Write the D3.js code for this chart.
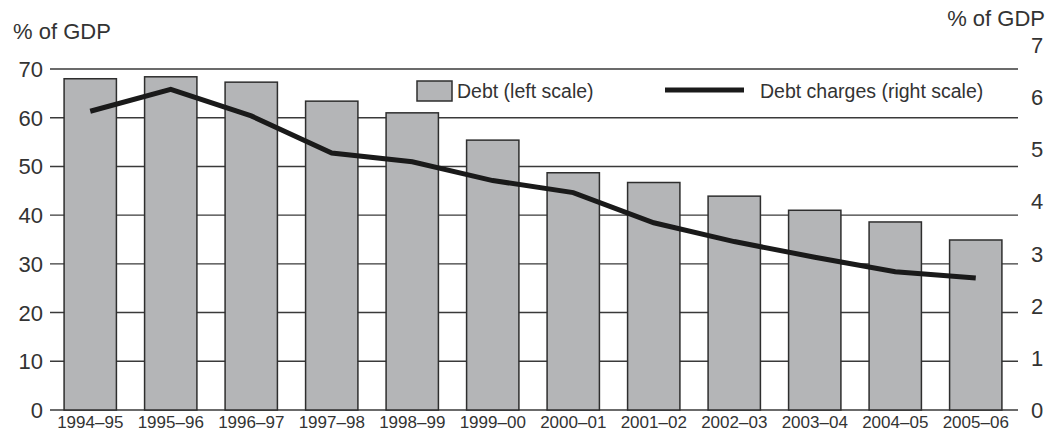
<!DOCTYPE html>
<html>
<head>
<meta charset="utf-8">
<script src="https://cdn.jsdelivr.net/npm/d3@7"></script>
<style>
  body { margin: 0; background: #fff; }
  text { font-family: "Liberation Sans", Arial, sans-serif; fill: #333; }
</style>
</head>
<body>
<div id="vis"></div>
<script>
// data
var years   = ["1994–95", "1995–96", "1996–97", "1997–98", "1998–99", "1999–00",
               "2000–01", "2001–02", "2002–03", "2003–04", "2004–05", "2005–06"];
var debt    = [68.0, 68.4, 67.3, 63.4, 61.0, 55.4, 48.7, 46.7, 43.9, 41.0, 38.6, 34.9];
var charges = [5.73, 6.15, 5.64, 4.93, 4.76, 4.40, 4.17, 3.59, 3.23, 2.93, 2.65, 2.53];
var leftTicks  = [0, 10, 20, 30, 40, 50, 60, 70];
var rightTicks = [0, 1, 2, 3, 4, 5, 6, 7];

var width = 1053, height = 433;

var svg = d3.select("#vis")
  .append("svg")
  .attr("width", width)
  .attr("height", height);

var x = d3.scaleBand()
  .domain(years)
  .range([50, 1016])
  .paddingInner(0.35)
  .paddingOuter(0.175);

var yL = d3.scaleLinear().domain([0, 70]).range([410, 69]);
var yR = d3.scaleLinear().domain([0, 7]).range([410, 45]);

////////// grid + axes //////////

svg.append("g")
  .attr("class", "grid")
  .selectAll("line")
  .data(leftTicks)
  .enter()
  .append("line")
  .attr("x1", 50)
  .attr("x2", 1018)
  .attr("y1", function (d) { return yL(d); })
  .attr("y2", function (d) { return yL(d); })
  .style("stroke", "#3a3a3a")
  .style("stroke-width", 1.4);

svg.append("g")
  .selectAll("text")
  .data(leftTicks)
  .enter()
  .append("text")
  .attr("x", 43)
  .attr("y", function (d) { return yL(d) + 8; })
  .attr("text-anchor", "end")
  .style("font-size", "22px")
  .text(function (d) { return d; });

svg.append("g")
  .selectAll("text")
  .data(rightTicks)
  .enter()
  .append("text")
  .attr("x", 1031)
  .attr("y", function (d) { return yR(d) + 8; })
  .style("font-size", "22px")
  .text(function (d) { return d; });

svg.append("text")
  .attr("x", 13)
  .attr("y", 39)
  .style("font-size", "22px")
  .text("% of GDP");

svg.append("text")
  .attr("x", 1045)
  .attr("y", 26)
  .attr("text-anchor", "end")
  .style("font-size", "22px")
  .text("% of GDP");

svg.append("g")
  .selectAll("text")
  .data(years)
  .enter()
  .append("text")
  .attr("x", function (d) { return x(d) + x.bandwidth() / 2; })
  .attr("y", 428)
  .attr("text-anchor", "middle")
  .style("font-size", "17px")
  .text(function (d) { return d; });

////////// bars //////////

svg.append("g")
  .selectAll("rect")
  .data(debt)
  .enter()
  .append("rect")
  .attr("x", function (d, i) { return x(years[i]); })
  .attr("y", function (d) { return yL(d); })
  .attr("width", x.bandwidth())
  .attr("height", function (d) { return yL(0) - yL(d); })
  .style("fill", "#b4b5b7")
  .style("stroke", "#2e2e2e")
  .style("stroke-width", 1.5);

////////// line //////////

var line = d3.line()
  .x(function (d, i) { return x(years[i]) + x.bandwidth() / 2; })
  .y(function (d) { return yR(d); });

svg.append("path")
  .datum(charges)
  .attr("d", line)
  .style("fill", "none")
  .style("stroke", "#1a1a1a")
  .style("stroke-width", 5);

////////// legend //////////

var legend = svg.append("g");

legend.append("rect")
  .attr("x", 417)
  .attr("y", 81)
  .attr("width", 35)
  .attr("height", 20)
  .style("fill", "#b4b5b7")
  .style("stroke", "#2e2e2e")
  .style("stroke-width", 1.5);

legend.append("text")
  .attr("x", 457)
  .attr("y", 98)
  .style("font-size", "19.5px")
  .text("Debt (left scale)");

legend.append("line")
  .attr("x1", 665)
  .attr("x2", 744)
  .attr("y1", 90)
  .attr("y2", 90)
  .style("stroke", "#1a1a1a")
  .style("stroke-width", 5);

legend.append("text")
  .attr("x", 760)
  .attr("y", 98)
  .style("font-size", "19.5px")
  .text("Debt charges (right scale)");
</script>
</body>
</html>
